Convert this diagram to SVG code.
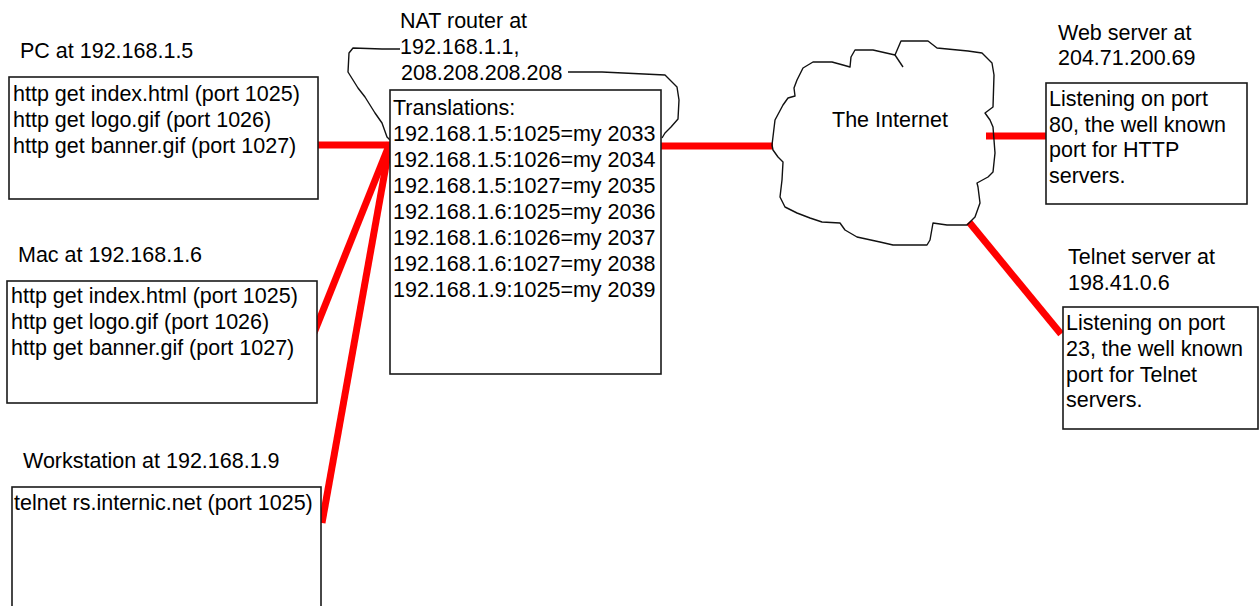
<svg xmlns="http://www.w3.org/2000/svg" width="1260" height="606" viewBox="0 0 1260 606">
  <style>
    text { font-family: "Liberation Sans", Arial, sans-serif; font-size: 21.5px; fill: #000; }
    .box { fill: #fff; stroke: #1a1a1a; stroke-width: 1.6; }
    .outline { fill: none; stroke: #111; stroke-width: 1.4; stroke-linejoin: round; }
    .link { stroke: #ff0000; stroke-width: 7; fill: none; stroke-linecap: butt; }
  </style>
  <rect width="1260" height="606" fill="#fff"/>

  <!-- network links -->
  <g id="connectors">
    <line class="link" x1="318" y1="145" x2="391" y2="145"/>
    <line class="link" x1="314" y1="333" x2="390" y2="143"/>
    <line class="link" x1="322" y1="523" x2="390" y2="143"/>
    <line class="link" x1="661" y1="146" x2="773" y2="146"/>
    <line class="link" x1="986" y1="136" x2="1049" y2="136"/>
    <line class="link" x1="969" y1="222" x2="1061" y2="334"/>
  </g>

  <g id="pc">
    <text x="20" y="58">PC at 192.168.1.5</text>
    <rect class="box" x="9" y="77" width="309" height="122"/>
    <text x="13" y="101">http get index.html (port 1025)</text>
    <text x="13" y="127">http get logo.gif (port 1026)</text>
    <text x="13" y="153">http get banner.gif (port 1027)</text>
  </g>

  <g id="mac">
    <text x="18" y="262">Mac at 192.168.1.6</text>
    <rect class="box" x="7" y="281" width="310" height="122"/>
    <text x="11" y="303">http get index.html (port 1025)</text>
    <text x="11" y="329">http get logo.gif (port 1026)</text>
    <text x="11" y="355">http get banner.gif (port 1027)</text>
  </g>

  <g id="workstation">
    <text x="23" y="468">Workstation at 192.168.1.9</text>
    <rect class="box" x="12" y="487" width="309" height="140"/>
    <text x="14" y="510">telnet rs.internic.net (port 1025)</text>
  </g>

  <g id="nat-router">
    <text x="400" y="28">NAT router at</text>
    <text x="400" y="54">192.168.1.1,</text>
    <text x="401" y="80">208.208.208.208</text>
    <path class="outline" d="M400,49 L382,49 L353,48 L349,53 L348,72 L358,88 L365,97 L375,113 L382,123 L387,137 L390,140"/>
    <path class="outline" d="M568,72 L602,72 L665,75 L677,87 L679,100 L678,119 L671,127 L665,133 L662,138"/>
    <rect class="box" x="390" y="90" width="271" height="284"/>
    <text x="393" y="115">Translations:</text>
    <text x="393" y="141">192.168.1.5:1025=my 2033</text>
    <text x="393" y="167">192.168.1.5:1026=my 2034</text>
    <text x="393" y="193">192.168.1.5:1027=my 2035</text>
    <text x="393" y="219">192.168.1.6:1025=my 2036</text>
    <text x="393" y="245">192.168.1.6:1026=my 2037</text>
    <text x="393" y="271">192.168.1.6:1027=my 2038</text>
    <text x="393" y="297">192.168.1.9:1025=my 2039</text>
  </g>

  <g id="internet">
    <path class="outline" d="M772,145 L775,120 L783,105 L788,98 L795,96 L794,88 L797,80 L803,68 L813,62 L832,62 L843,65 L850,67 L851,57 L855,50 L873,50 L895,55 L901,41 L928,41 L937,48 L968,51 L982,53 L992,63 L994,75 L993,107 L985,113 L990,120 L993,127 L995,153 L993,172 L988,177 L977,183 L978,187 L980,203 L975,217 L967,225 L947,225 L933,223 L930,240 L927,245 L893,245 L880,242 L857,237 L845,230 L840,223 L822,222 L810,218 L797,213 L785,207 L780,197 L782,180 L783,162 L778,157 L773,150 Z"/>
    <path class="outline" d="M895,55 L903,67"/>
    <text x="832" y="127">The Internet</text>
  </g>

  <g id="web-server">
    <text x="1058" y="40">Web server at</text>
    <text x="1058" y="65">204.71.200.69</text>
    <rect class="box" x="1046" y="83" width="201" height="121"/>
    <text x="1049" y="106">Listening on port</text>
    <text x="1049" y="132">80, the well known</text>
    <text x="1049" y="157">port for HTTP</text>
    <text x="1049" y="183">servers.</text>
  </g>

  <g id="telnet-server">
    <text x="1068" y="264">Telnet server at</text>
    <text x="1068" y="290">198.41.0.6</text>
    <rect class="box" x="1063" y="307" width="195" height="122"/>
    <text x="1066" y="330">Listening on port</text>
    <text x="1066" y="356">23, the well known</text>
    <text x="1066" y="382">port for Telnet</text>
    <text x="1066" y="407">servers.</text>
  </g>
</svg>
